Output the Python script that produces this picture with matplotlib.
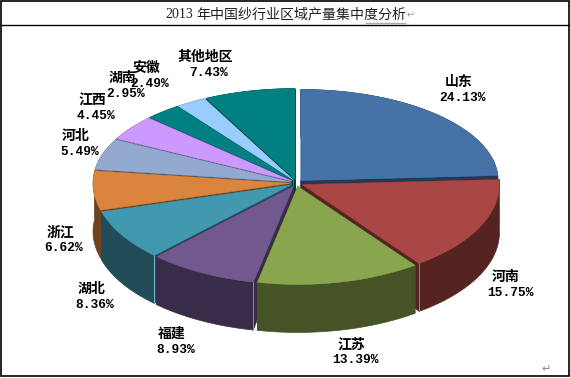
#!/usr/bin/env python3
"""2013 yarn output by region, drawn as an extruded pie"""

import numpy as np
import matplotlib
matplotlib.use('Agg')
import matplotlib.pyplot as plt
from matplotlib.patches import Polygon, Rectangle

regions = ['山东', '河南', '江苏', '福建', '湖北', '浙江', '河北', '江西', '湖南', '安徽', '其他地区']
shares = [24.13, 15.75, 13.39, 8.93, 8.36, 6.62, 5.49, 4.45, 2.95, 2.49, 7.43]
colors = ['#4672A8', '#AA4644', '#89A54E', '#71588F', '#4198AF', '#DB843D',
          '#93A9CF', '#CC99FF', '#008080', '#99CCFF', '#008080']
label_pos = [(459, 90), (506, 285), (351, 352), (172, 342), (91, 297),
             (60, 240), (76, 144), (92, 108), (122, 86), (146, 76), (205, 65)]

CJK = ['Noto Sans CJK SC', 'DejaVu Sans']
CX, CY = 296.5, 183
RX, RY_BACK, RY_FRONT = 197.5, 91, 98
DEPTH = 48
EXPLODE_X, EXPLODE_Y = 6, 3.5


def to_xy(theta, dx=0, dy=0):
    """Clockwise angle from 12 o'clock to a point on the squashed rim"""
    c = np.cos(theta)
    ry = np.where(c > 0, RY_BACK, RY_FRONT)
    return np.column_stack([CX + dx + RX * np.sin(theta), CY + dy - ry * c])


def draw_slice(ax, a0, a1, color, z):
    mid = (a0 + a1) / 2
    dx, dy = EXPLODE_X * np.sin(mid), -EXPLODE_Y * np.cos(mid)
    tip = np.array([CX + dx, CY + dy])
    rim = to_xy(np.linspace(a0, a1, 80), dx, dy)
    down = np.array([0, DEPTH])
    tip_down = np.array([0, DEPTH * 0.8])
    rgb = matplotlib.colors.to_rgb(color)
    dark = tuple(c * 0.5 for c in rgb)
    light = tuple(min(1, c * 0.9 + 0.2) for c in rgb)

    # walls first, the top face goes over them
    ax.add_patch(Polygon([tip, rim[0], rim[0] + down, tip + tip_down], fc=dark, ec=dark, lw=0.5, zorder=z))
    ax.add_patch(Polygon([tip, rim[-1], rim[-1] + down, tip + tip_down], fc=dark, ec=dark, lw=0.5, zorder=z))
    wall = np.vstack([rim, (rim + down)[::-1]])
    ax.add_patch(Polygon(wall, fc=dark, ec=dark, lw=0.5, zorder=z))
    # pale vertical seam on the edge that faces the viewer
    if np.cos(mid) < -0.1 and abs(np.sin(mid)) > 0.4:
        edge = rim[-1] if np.sin(mid) > 0 else rim[0]
        ax.plot([edge[0], edge[0]], [edge[1], edge[1] + DEPTH], color=light, lw=0.7, zorder=z)
    ax.add_patch(Polygon(np.vstack([tip, rim]), fc=color, ec=color, lw=0.3, zorder=z))


def main():
    plt.rcParams['font.family'] = CJK
    fig = plt.figure(figsize=(5.7, 3.78), dpi=100)
    ax = fig.add_axes([0, 0, 1, 1])
    ax.set_xlim(0, 570)
    ax.set_ylim(378, 0)
    ax.axis('off')

    edges = np.cumsum([0] + shares) / sum(shares) * 2 * np.pi
    order = np.argsort([-np.cos((edges[i] + edges[i + 1]) / 2) for i in range(len(shares))])
    for z, i in enumerate(order):
        draw_slice(ax, edges[i], edges[i + 1], colors[i], 2 + z * 0.01)

    for name, val, (x, y) in zip(regions, shares, label_pos):
        ax.text(x, y - 8, name, ha='center', va='center', fontsize=10,
                fontweight='bold', color='black', family=CJK, zorder=5)
        ax.text(x + 4, y + 8, f'{val:.2f}%', ha='center', va='center', fontsize=9.3,
                fontweight='bold', color='black', family=['Liberation Mono', 'DejaVu Sans'], zorder=5)

    # table frame around the chart
    ax.add_patch(Rectangle((1, 1), 568, 375, fc='none', ec='black', lw=1.2, zorder=5))
    ax.plot([1, 569], [25, 25], color='black', lw=1.0, zorder=5)
    ax.text(165, 14, '2013', ha='left', va='center', fontsize=10,
            color='#222222', family='Liberation Serif')
    ax.text(196, 14, '年中国纱行业区域产量集中度分析', ha='left', va='center', fontsize=10.1,
            color='#222222', family=CJK)
    ax.text(411, 15, '↵', ha='center', va='center', fontsize=7, color='#999999', family='DejaVu Sans')
    ax.text(546, 369, '↵', ha='center', va='center', fontsize=8, color='#888888', family='DejaVu Sans')

    # spell-check squiggle under the last characters of the title
    xs = np.arange(366, 407, 2)
    ax.plot(xs, 23 + (np.arange(len(xs)) % 2), color='#6FA05A', lw=0.6)

    plt.savefig('out.png', dpi=100)
    plt.close()


if __name__ == '__main__':
    main()
